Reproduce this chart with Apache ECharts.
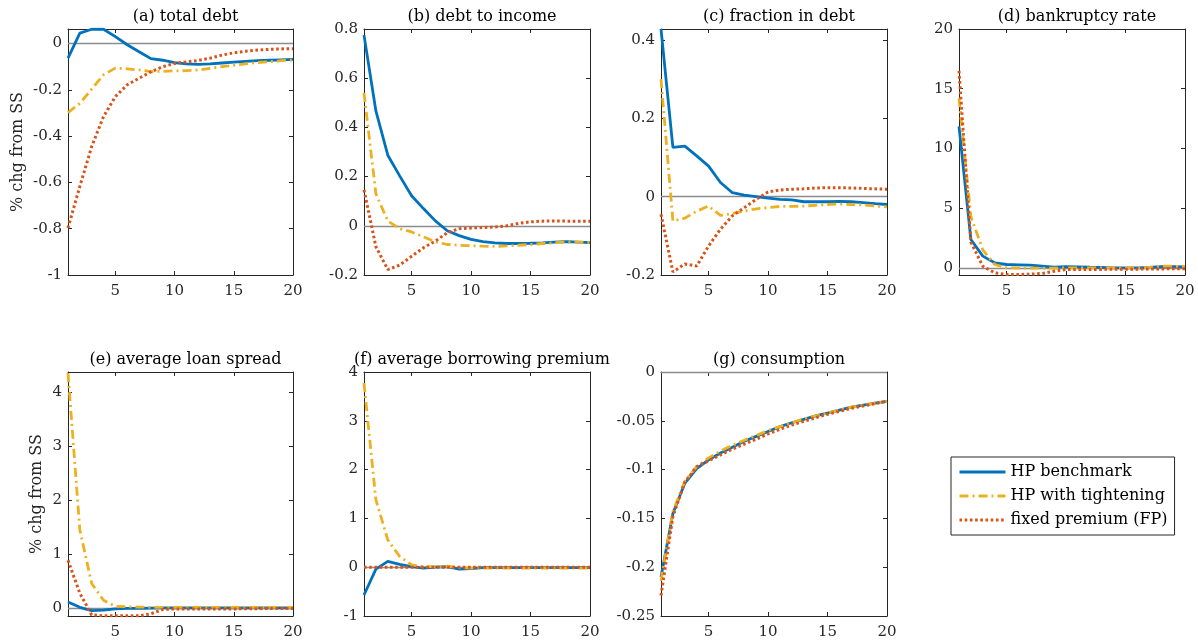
<!DOCTYPE html>
<html>
<head>
<meta charset="utf-8">
<script src="https://cdn.jsdelivr.net/npm/echarts@6/dist/echarts.min.js"></script>
<style>
  html, body { margin: 0; padding: 0; background: #fff; }
  #main { width: 1198px; height: 643px; }
</style>
</head>
<body>
<div id="main"></div>
<script>
// quarters after the shock
const periods = [1, 2, 3, 4, 5, 6, 7, 8, 9, 10, 11, 12, 13, 14, 15, 16, 17, 18, 19, 20];
const xTicks = [5, 10, 15, 20];
const seriesNames = ["HP benchmark", "HP with tightening", "fixed premium (FP)"];

// (a) total debt
const debtBench = [-0.063, 0.045, 0.062, 0.062, 0.030, -0.005, -0.035, -0.065, -0.072, -0.082, -0.088, -0.090, -0.088, -0.084, -0.080, -0.077, -0.074, -0.072, -0.070, -0.068];
const debtTight = [-0.298, -0.258, -0.197, -0.135, -0.106, -0.109, -0.114, -0.121, -0.120, -0.118, -0.117, -0.114, -0.107, -0.100, -0.094, -0.088, -0.082, -0.078, -0.074, -0.071];
const debtFixed = [-0.797, -0.617, -0.445, -0.315, -0.229, -0.178, -0.150, -0.122, -0.100, -0.086, -0.079, -0.073, -0.063, -0.050, -0.040, -0.033, -0.028, -0.025, -0.023, -0.022];
const debtTicks = [-1, -0.8, -0.6, -0.4, -0.2, 0];

// (b) debt to income
const dtiBench = [0.775, 0.467, 0.287, 0.203, 0.122, 0.070, 0.020, -0.020, -0.040, -0.055, -0.064, -0.069, -0.072, -0.072, -0.071, -0.069, -0.066, -0.064, -0.066, -0.068];
const dtiTight = [0.540, 0.130, 0.020, -0.012, -0.025, -0.045, -0.065, -0.076, -0.079, -0.081, -0.083, -0.084, -0.082, -0.079, -0.076, -0.072, -0.069, -0.066, -0.066, -0.068];
const dtiFixed = [0.146, -0.085, -0.178, -0.160, -0.124, -0.089, -0.062, -0.028, -0.012, -0.009, -0.007, -0.005, 0.000, 0.010, 0.016, 0.019, 0.020, 0.019, 0.019, 0.019];
const dtiTicks = [-0.2, 0, 0.2, 0.4, 0.6, 0.8];

// (c) fraction in debt
const fracBench = [0.428, 0.126, 0.129, 0.104, 0.078, 0.036, 0.010, 0.004, 0.000, -0.004, -0.007, -0.008, -0.013, -0.013, -0.013, -0.012, -0.013, -0.015, -0.018, -0.020];
const fracTight = [0.300, -0.062, -0.055, -0.037, -0.024, -0.048, -0.043, -0.037, -0.031, -0.028, -0.025, -0.025, -0.024, -0.022, -0.020, -0.019, -0.020, -0.021, -0.024, -0.026];
const fracFixed = [-0.045, -0.192, -0.172, -0.177, -0.126, -0.083, -0.049, -0.028, -0.007, 0.012, 0.017, 0.019, 0.020, 0.022, 0.023, 0.023, 0.022, 0.021, 0.020, 0.019];
const fracTicks = [-0.2, 0, 0.2, 0.4];

// (d) bankruptcy rate
const bankBench = [11.85, 2.37, 0.98, 0.42, 0.28, 0.25, 0.22, 0.14, 0.06, 0.10, 0.08, 0.05, 0.03, 0.00, 0.00, 0.00, 0.03, 0.10, 0.10, 0.08];
const bankTight = [14.2, 4.3, 1.5, 0.28, 0.0, -0.03, -0.03, -0.03, -0.03, 0.0, 0.0, 0.0, 0.0, 0.0, 0.0, 0.0, 0.03, 0.14, 0.14, 0.10];
const bankFixed = [16.5, 2.15, 0.14, -0.42, -0.56, -0.56, -0.53, -0.47, -0.28, -0.14, -0.14, -0.14, -0.13, -0.12, -0.12, -0.11, -0.10, -0.09, -0.08, -0.08];
const bankTicks = [0, 5, 10, 15, 20];

// (e) average loan spread
const spreadBench = [0.12, 0.02, -0.04, -0.03, -0.01, 0.0, 0.0, 0.005, 0.01, 0.01, 0.01, 0.01, 0.01, 0.01, 0.01, 0.01, 0.01, 0.01, 0.01, 0.01];
const spreadTight = [4.35, 1.45, 0.46, 0.15, 0.04, 0.03, 0.025, 0.02, 0.02, 0.02, 0.02, 0.02, 0.02, 0.02, 0.02, 0.02, 0.02, 0.02, 0.02, 0.02];
const spreadFixed = [0.89, 0.28, -0.12, -0.135, -0.135, -0.135, -0.135, -0.10, -0.02, -0.01, -0.01, -0.01, -0.01, -0.01, -0.01, -0.005, -0.005, 0.0, 0.0, 0.0];
const spreadTicks = [0, 1, 2, 3, 4];

// (f) average borrowing premium
const premBench = [-0.57, -0.04, 0.12, 0.06, 0.01, -0.02, 0.0, 0.01, -0.04, -0.03, -0.01, -0.01, -0.01, -0.01, -0.01, -0.01, -0.01, -0.01, -0.01, -0.01];
const premTight = [3.77, 1.38, 0.56, 0.22, 0.05, 0.01, 0.01, 0.02, -0.01, -0.02, -0.02, -0.02, -0.02, -0.02, -0.02, -0.02, -0.02, -0.02, -0.02, -0.02];
const premFixed = [0, 0, 0, 0, 0, 0, 0, 0, 0, 0, 0, 0, 0, 0, 0, 0, 0, 0, 0, 0];
const premTicks = [-1, 0, 1, 2, 3, 4];

// (g) consumption
const consBench = [-0.210, -0.145, -0.114, -0.099, -0.090, -0.083, -0.077, -0.071, -0.066, -0.061, -0.056, -0.052, -0.0485, -0.045, -0.042, -0.039, -0.036, -0.034, -0.032, -0.030];
const consTight = [-0.214, -0.143, -0.112, -0.097, -0.088, -0.081, -0.075, -0.070, -0.065, -0.060, -0.056, -0.052, -0.048, -0.045, -0.042, -0.039, -0.036, -0.034, -0.032, -0.030];
const consFixed = [-0.229, -0.148, -0.113, -0.097, -0.091, -0.085, -0.079, -0.074, -0.069, -0.0635, -0.0587, -0.0543, -0.0505, -0.0468, -0.0434, -0.0403, -0.0372, -0.0348, -0.0324, -0.030];
const consTicks = [-0.25, -0.2, -0.15, -0.1, -0.05, 0];

const panels = [
  { title: "(a) total debt", box: [68, 29, 225, 246], min: -1, max: 0.063, ticks: debtTicks, lines: [debtBench, debtTight, debtFixed], ylabel: true, nameGap: 42 },
  { title: "(b) debt to income", box: [364, 29, 226, 246], min: -0.2, max: 0.8, ticks: dtiTicks, lines: [dtiBench, dtiTight, dtiFixed] },
  { title: "(c) fraction in debt", box: [661, 29, 226, 246], min: -0.2, max: 0.428, ticks: fracTicks, lines: [fracBench, fracTight, fracFixed] },
  { title: "(d) bankruptcy rate", box: [959, 29, 226, 246], min: -0.6, max: 20, ticks: bankTicks, lines: [bankBench, bankTight, bankFixed] },
  { title: "(e) average loan spread", box: [68, 372, 225, 244], min: -0.14, max: 4.37, ticks: spreadTicks, lines: [spreadBench, spreadTight, spreadFixed], ylabel: true, nameGap: 23 },
  { title: "(f) average borrowing premium", box: [364, 372, 226, 244], min: -1, max: 4, ticks: premTicks, lines: [premBench, premTight, premFixed] },
  { title: "(g) consumption", box: [661, 372, 226, 244], min: -0.25, max: 0, ticks: consTicks, lines: [consBench, consTight, consFixed] }
];

const FONT = "DejaVu Serif";
const colors = ["#0072BD", "#EDB120", "#D95319"];
const dashes = ["solid", [9, 4, 2, 4], [2.6, 2.6]];
const widths = [2.8, 2.8, 3];
const axisColor = "#262626";

let myChart = echarts.init(document.getElementById("main"));
let grid = [], xAxis = [], yAxis = [], title = [], series = [];

panels.forEach(function (p, i) {
  grid.push({ left: p.box[0], top: p.box[1], width: p.box[2], height: p.box[3] });
  title.push({
    text: p.title,
    left: p.box[0] + p.box[2] / 2,
    top: p.box[1] - 25,
    textAlign: "center",
    textStyle: { fontFamily: FONT, fontSize: 16, fontWeight: "normal", color: "#000" }
  });
  let common = {
    gridIndex: i,
    type: "value",
    axisLine: { show: true, onZero: false, lineStyle: { color: axisColor, width: 1 } },
    splitLine: { show: false }
  };
  // bottom + top
  xAxis.push(Object.assign({}, common, {
    position: "bottom", min: 1, max: 20,
    axisTick: { inside: true, length: 4, customValues: xTicks, lineStyle: { color: axisColor } },
    axisLabel: { customValues: xTicks, margin: 9, fontFamily: FONT, fontSize: 15, color: axisColor }
  }));
  xAxis.push(Object.assign({}, common, {
    position: "top", min: 1, max: 20,
    axisTick: { inside: true, length: 4, customValues: xTicks, lineStyle: { color: axisColor } },
    axisLabel: { show: false }
  }));
  // left + right
  yAxis.push(Object.assign({}, common, {
    position: "left", min: p.min, max: p.max,
    name: p.ylabel ? "% chg from SS" : "",
    nameLocation: "middle",
    nameGap: p.nameGap || 30,
    nameTextStyle: { fontFamily: FONT, fontSize: 16, color: axisColor },
    axisTick: { inside: true, length: 4, customValues: p.ticks, lineStyle: { color: axisColor } },
    axisLabel: { customValues: p.ticks, margin: 6, fontFamily: FONT, fontSize: 15, color: axisColor }
  }));
  yAxis.push(Object.assign({}, common, {
    position: "right", min: p.min, max: p.max,
    axisTick: { inside: true, length: 4, customValues: p.ticks, lineStyle: { color: axisColor } },
    axisLabel: { show: false }
  }));

  p.lines.forEach(function (vals, k) {
    let s = {
      name: seriesNames[k],
      type: "line",
      xAxisIndex: i * 2,
      yAxisIndex: i * 2,
      data: periods.map(function (t, j) { return [t, vals[j]]; }),
      symbol: "none",
      color: colors[k],
      lineStyle: { color: colors[k], width: widths[k], type: dashes[k] },
      z: 3 + k
    };
    if (k === 0) {
      s.markLine = {
        silent: true,
        symbol: "none",
        label: { show: false },
        lineStyle: { color: "#8c8c8c", width: 1.3, type: "solid" },
        data: [{ yAxis: 0 }],
        z: 2
      };
    }
    series.push(s);
  });
});

let option = {
  animation: false,
  backgroundColor: "#fff",
  title: title,
  grid: grid,
  xAxis: xAxis,
  yAxis: yAxis,
  legend: {
    orient: "vertical",
    left: 951,
    top: 457,
    width: 230,
    itemWidth: 46,
    itemHeight: 14,
    itemGap: 8,
    itemTextGap: 4,
    padding: [7, 7],
    borderColor: axisColor,
    borderWidth: 1,
    itemStyle: { opacity: 0 },
    lineStyle: { width: 3 },
    data: seriesNames,
    textStyle: { fontFamily: FONT, fontSize: 16, color: "#000" }
  },
  series: series
};

option && myChart.setOption(option);
</script>
</body>
</html>
